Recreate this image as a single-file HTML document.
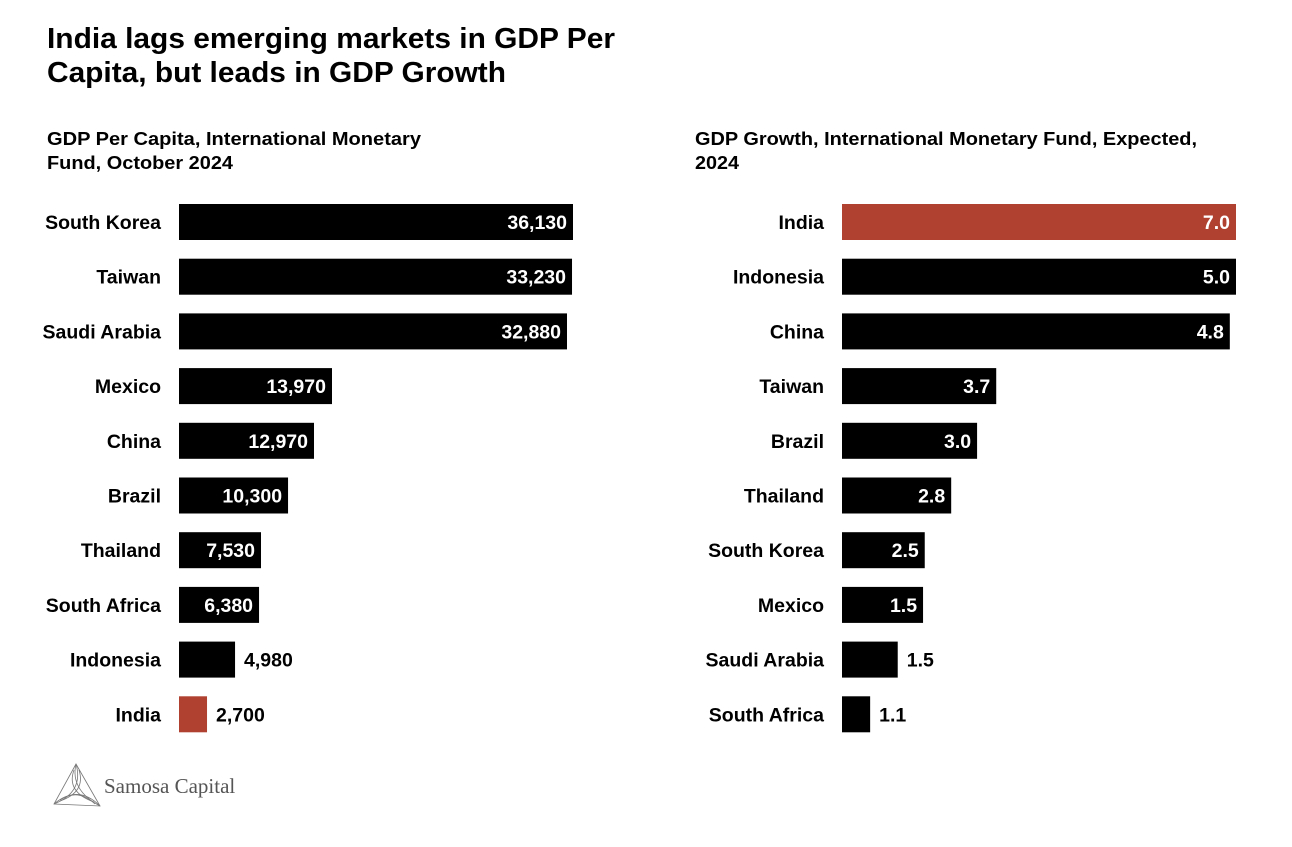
<!DOCTYPE html>
<html><head><meta charset="utf-8">
<style>
body{margin:0;background:#fff;width:1292px;height:842px;overflow:hidden;font-family:"Liberation Sans",Arial,sans-serif}
svg text{font-family:"Liberation Sans",Arial,sans-serif}
</style></head>
<body>
<svg width="1292" height="842" viewBox="0 0 1292 842">
<text x="47" y="48" font-size="29" font-weight="bold" fill="#000" textLength="568" lengthAdjust="spacingAndGlyphs">India lags emerging markets in GDP Per</text>
<text x="47" y="82" font-size="29" font-weight="bold" fill="#000" textLength="459" lengthAdjust="spacingAndGlyphs">Capita, but leads in GDP Growth</text>
<text x="47" y="145" font-size="18.5" font-weight="bold" textLength="374" lengthAdjust="spacingAndGlyphs">GDP Per Capita, International Monetary</text>
<text x="47" y="169" font-size="18.5" font-weight="bold" textLength="186" lengthAdjust="spacingAndGlyphs">Fund, October 2024</text>
<text x="695" y="145" font-size="18.5" font-weight="bold" textLength="502" lengthAdjust="spacingAndGlyphs">GDP Growth, International Monetary Fund, Expected,</text>
<text x="695" y="169" font-size="18.5" font-weight="bold" textLength="44" lengthAdjust="spacingAndGlyphs">2024</text>
<g id="left"></g>
<g id="right"></g>
<g>
<g fill="none" stroke="#777" stroke-width="0.8">
<path d="M76 764 L54 804 L100 806 Z"/>
<path d="M76 764 Q70 790 100 806"/><path d="M76 764 Q84 792 54 804"/><path d="M54 804 Q78 784 100 806"/>
<path d="M74 770 Q66 792 94 802"/><path d="M79 770 Q86 792 60 801"/><path d="M60 800 Q78 788 95 804"/>
</g>
<text x="104" y="793" font-size="21" fill="#555" style="font-family:'Liberation Serif',serif">Samosa Capital</text>
</g>
</svg>
<script>
const leftCategories=["South Korea","Taiwan","Saudi Arabia","Mexico","China","Brazil","Thailand","South Africa","Indonesia","India"];
const leftValues=[36130,36040,35580,14030,12380,10000,7520,7340,5140,2570];
const leftLabels=["36,130","33,230","32,880","13,970","12,970","10,300","7,530","6,380","4,980","2,700"];
const rightCategories=["India","Indonesia","China","Taiwan","Brazil","Thailand","South Korea","Mexico","Saudi Arabia","South Africa"];
const rightValues=[7.0,7.0,6.89,2.74,2.40,1.94,1.47,1.44,0.99,0.50];
const rightLabels=["7.0","5.0","4.8","3.7","3.0","2.8","2.5","1.5","1.5","1.1"];
const NS="http://www.w3.org/2000/svg";
function yPos(i){return 222+i*54.7;}
function draw(gid,cats,vals,labs,x0,maxV,hl,prefix){
  const g=document.getElementById(gid);
  const sx=v=>v/maxV*394;
  cats.forEach((c,i)=>{
    const yc=yPos(i),w=sx(vals[i]);
    const t=document.createElementNS(NS,'text');
    
    
    t.setAttribute('x',x0-18);t.setAttribute('y',yc+7);t.setAttribute('text-anchor','end');
    t.setAttribute('font-size','19.5');t.setAttribute('font-weight','bold');t.textContent=c;g.appendChild(t);
    const r=document.createElementNS(NS,'rect');
    
    
    r.setAttribute('x',x0);r.setAttribute('y',yc-18);r.setAttribute('width',w);r.setAttribute('height',36);
    r.setAttribute('fill',c===hl?'#b04030':'#000');g.appendChild(r);
    const l=document.createElementNS(NS,'text');
    
    
    const inside=w>70;
    l.setAttribute('x',inside?x0+w-6:x0+w+9);l.setAttribute('y',yc+7);
    l.setAttribute('text-anchor',inside?'end':'start');
    l.setAttribute('fill',inside?'#fff':'#000');
    l.setAttribute('font-size','19.5');l.setAttribute('font-weight','bold');l.textContent=labs[i];g.appendChild(l);
  });
}
draw('left',leftCategories,leftValues,leftLabels,179,36130,'India','left');
draw('right',rightCategories,rightValues,rightLabels,842,7.0,'India','right');
</script>
</body></html>
